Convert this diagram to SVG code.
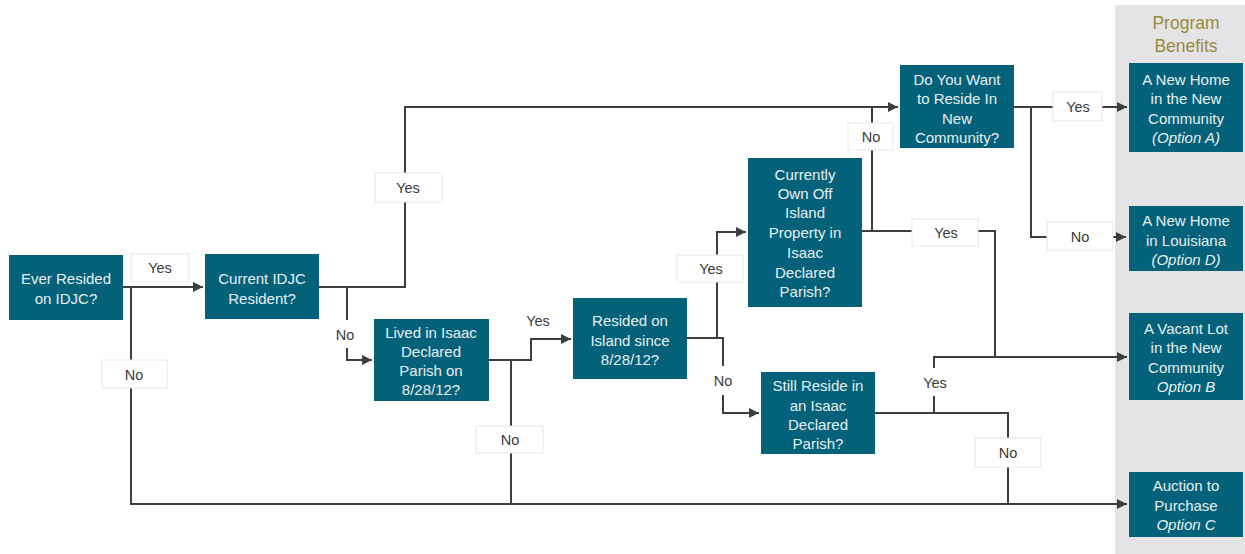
<svg xmlns="http://www.w3.org/2000/svg" width="1245" height="554" viewBox="0 0 1245 554">
<style>
.node rect{fill:#03627a}
.node text{fill:#e9eef0;font-family:"Liberation Sans",Arial,sans-serif;font-size:15px;text-anchor:middle}
.lbl rect{fill:#ffffff;stroke:#e6e6e6;stroke-width:1}
.lbl rect.plain{stroke:none}
.lbl text{fill:#3a3a3a;font-family:"Liberation Sans",Arial,sans-serif;font-size:14.5px;text-anchor:middle}
.conn path{fill:none;stroke:#3b3f3d;stroke-width:2}
.hdr{fill:#9b8a3c;font-family:"Liberation Sans",Arial,sans-serif;font-size:17.5px;text-anchor:middle}
</style>
<defs>
<marker id="ah" viewBox="0 0 10 10" refX="10" refY="5" markerWidth="5" markerHeight="5" orient="auto" markerUnits="strokeWidth">
<path d="M0,0 L10,5 L0,10 z" fill="#3b3f3d"/>
</marker>
</defs>
<rect x="0" y="0" width="1245" height="554" fill="#ffffff"/>
<rect id="benefits-panel" x="1115" y="5" width="130" height="549" fill="#e4e4e6"/>
<text class="hdr" x="1186" y="29">Program</text>
<text class="hdr" x="1186" y="52">Benefits</text>

<g id="connectors" class="conn">
<path d="M131,287 V504 H1127" marker-end="url(#ah)"/>
<path d="M123,287 H203" marker-end="url(#ah)"/>
<path d="M319,287 H405 V107 H898" marker-end="url(#ah)"/>
<path d="M347,287 V360 H372" marker-end="url(#ah)"/>
<path d="M489,360 H531 V339 H571" marker-end="url(#ah)"/>
<path d="M511,360 V504"/>
<path d="M687,338 H723 V413 H759" marker-end="url(#ah)"/>
<path d="M717,338 V232 H746" marker-end="url(#ah)"/>
<path d="M862,231 H995 V357"/>
<path d="M872,231 V107"/>
<path d="M934,413 V357 H1127" marker-end="url(#ah)"/>
<path d="M875,413 H1008 V504"/>
<path d="M1014,107 H1127" marker-end="url(#ah)"/>
<path d="M1031,107 V237 H1126" marker-end="url(#ah)"/>
</g>

<g id="labels">
<g id="lbl-yes-1" class="lbl"><rect x="131" y="254" width="58" height="28"/><text x="160" y="273">Yes</text></g>
<g id="lbl-no-1" class="lbl"><rect x="102" y="360" width="65" height="28"/><text x="134" y="380">No</text></g>
<g id="lbl-yes-2" class="lbl"><rect x="375" y="173" width="67" height="29"/><text x="408" y="193">Yes</text></g>
<g id="lbl-no-2" class="lbl"><rect class="plain" x="312" y="320" width="68" height="28"/><text x="345" y="340">No</text></g>
<g id="lbl-yes-3" class="lbl"><rect class="plain" x="506" y="306" width="62" height="27"/><text x="538" y="326">Yes</text></g>
<g id="lbl-no-3" class="lbl"><rect x="476" y="426" width="67" height="27"/><text x="510" y="445">No</text></g>
<g id="lbl-yes-4" class="lbl"><rect x="677" y="255" width="66" height="27"/><text x="711" y="274">Yes</text></g>
<g id="lbl-no-4" class="lbl"><rect class="plain" x="704" y="366" width="38" height="29"/><text x="723" y="386">No</text></g>
<g id="lbl-no-5" class="lbl"><rect x="848" y="123" width="45" height="27"/><text x="871" y="142">No</text></g>
<g id="lbl-yes-5" class="lbl"><rect x="912" y="219" width="66" height="27"/><text x="946" y="238">Yes</text></g>
<g id="lbl-yes-6" class="lbl"><rect class="plain" x="902" y="368" width="66" height="28"/><text x="935" y="388">Yes</text></g>
<g id="lbl-no-6" class="lbl"><rect x="975" y="438" width="66" height="29"/><text x="1008" y="458">No</text></g>
<g id="lbl-yes-7" class="lbl"><rect x="1053" y="92" width="49" height="29"/><text x="1078" y="112">Yes</text></g>
<g id="lbl-no-7" class="lbl"><rect x="1047" y="222" width="66" height="28"/><text x="1080" y="242">No</text></g>
</g>

<g id="n-ever" class="node"><rect x="9" y="255" width="114" height="65"/><text x="66" y="284">Ever Resided</text><text x="66" y="304">on IDJC?</text></g>
<g id="n-current" class="node"><rect x="205" y="254" width="114" height="65"/><text x="262" y="284">Current IDJC</text><text x="262" y="304">Resident?</text></g>
<g id="n-lived" class="node"><rect x="374" y="319" width="115" height="82"/><text x="431" y="338">Lived in Isaac</text><text x="431" y="357">Declared</text><text x="431" y="376">Parish on</text><text x="431" y="395">8/28/12?</text></g>
<g id="n-resided" class="node"><rect x="573" y="298" width="114" height="81"/><text x="630" y="326">Resided on</text><text x="630" y="346">Island since</text><text x="630" y="365">8/28/12?</text></g>
<g id="n-own" class="node"><rect x="748" y="158" width="114" height="149"/><text x="805" y="180">Currently</text><text x="805" y="199">Own Off</text><text x="805" y="218">Island</text><text x="805" y="238">Property in</text><text x="805" y="258">Isaac</text><text x="805" y="278">Declared</text><text x="805" y="297">Parish?</text></g>
<g id="n-want" class="node"><rect x="900" y="65" width="114" height="83"/><text x="957" y="85">Do You Want</text><text x="957" y="104">to Reside In</text><text x="957" y="124">New</text><text x="957" y="143">Community?</text></g>
<g id="n-still" class="node"><rect x="761" y="372" width="114" height="82"/><text x="818" y="391">Still Reside in</text><text x="818" y="411">an Isaac</text><text x="818" y="430">Declared</text><text x="818" y="449">Parish?</text></g>
<g id="n-optA" class="node"><rect x="1129" y="63" width="114" height="89"/><text x="1186" y="85">A New Home</text><text x="1186" y="104">in the New</text><text x="1186" y="124">Community</text><text x="1186" y="143" font-style="italic">(Option A)</text></g>
<g id="n-optD" class="node"><rect x="1129" y="206" width="114" height="65"/><text x="1186" y="226">A New Home</text><text x="1186" y="246">in Louisiana</text><text x="1186" y="265" font-style="italic">(Option D)</text></g>
<g id="n-optB" class="node"><rect x="1129" y="313" width="114" height="87"/><text x="1186" y="334">A Vacant  Lot</text><text x="1186" y="353">in the New</text><text x="1186" y="373">Community</text><text x="1186" y="392" font-style="italic">Option B</text></g>
<g id="n-optC" class="node"><rect x="1129" y="472" width="114" height="65"/><text x="1186" y="491">Auction to</text><text x="1186" y="511">Purchase</text><text x="1186" y="530" font-style="italic">Option C</text></g>
</svg>
